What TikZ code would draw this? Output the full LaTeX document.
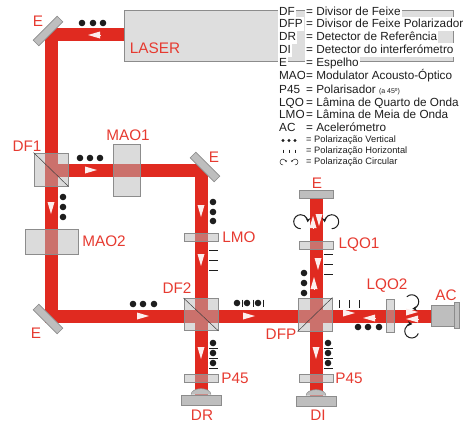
\documentclass[tikz,border=0pt]{standalone}
\usepackage{fontspec}
\setmainfont{Liberation Sans}
\usetikzlibrary{arrows.meta, backgrounds}
\usepackage{xcolor}
\definecolor{beamred}{HTML}{E02A20}
\definecolor{partred}{HTML}{E63A30}
\definecolor{platefill}{HTML}{B8B8B8}
\definecolor{solidfill}{HTML}{BEBEBE}
\definecolor{edgegray}{HTML}{8C8C8C}
\definecolor{legendink}{HTML}{1E1E1E}
\tikzset{
    beam/.style={
        draw=beamred, line width=13pt, miter limit=10
    },
    lasersource/.style={
        rectangle, inner sep=0pt, fill=black!13, draw=edgegray, line width=0.8pt
    },
    plate/.style={
        rectangle, inner sep=0pt, fill=platefill, fill opacity=0.5,
        draw=edgegray, line width=0.8pt
    },
    mirrorbox/.style={
        rectangle, inner sep=0pt, fill=solidfill, draw=edgegray, line width=0.6pt,
        minimum width=34pt, minimum height=8pt
    },
    solidbox/.style={
        rectangle, inner sep=0pt, fill=solidfill, draw=edgegray, line width=0.8pt
    },
    split/.style={
        draw=black!75, line width=0.5pt
    },
    partname/.style={
        text=partred, font=\fontsize{15.3}{17}\selectfont, inner sep=0pt
    },
    legendkey/.style={
        anchor=west, fill=white, inner sep=1pt, text=legendink, text height=9pt, text depth=2.5pt,
        font=\fontsize{11.75}{14}\selectfont
    },
    legendtiny/.style={
        anchor=west, inner sep=1pt, text=legendink, font=\fontsize{9.3}{11}\selectfont
    },
    poldot/.style={
        fill=legendink
    },
    polbar/.style={
        draw=legendink, line width=1pt
    },
    flow/.style={
        -{Triangle[length=12pt, width=7pt]}, draw=white!92!beamred, line width=0pt
    },
    spin/.style={
        draw=legendink, line width=1pt, -{Stealth[length=4.5pt, width=5pt]}
    },
    spintiny/.style={
        draw=legendink, line width=0.5pt, -{Stealth[length=2pt, width=2pt]}
    }
}
\begin{document}
\begin{tikzpicture}[x=1pt, y=-1pt]
    \useasboundingbox (0,0) rectangle (470,424);

    % ── Sources and optics ──
    \node[lasersource, minimum width=329pt, minimum height=51pt] (laser) at (288.5,35.5) {};
    \node[plate, minimum width=34pt, minimum height=33pt] (dfone) at (51,169.5) {};
    \node[plate, minimum width=27pt, minimum height=52pt] (maoone) at (126.5,170) {};
    \node[plate, minimum width=53pt, minimum height=25pt] (maotwo) at (51.5,241.5) {};
    \node[plate, minimum width=34pt, minimum height=8pt] (lmo) at (201,237) {};
    \node[plate, minimum width=34pt, minimum height=32pt] (dftwo) at (201,314.5) {};
    \node[plate, minimum width=34pt, minimum height=8pt] (pleft) at (201,378) {};
    \node[plate, minimum width=34pt, minimum height=8pt] (lqoone) at (316,245) {};
    \node[plate, minimum width=34pt, minimum height=33pt] (dfp) at (315,314.5) {};
    \node[plate, minimum width=8pt, minimum height=33pt] (lqotwo) at (390,315.5) {};
    \node[plate, minimum width=34pt, minimum height=8pt] (pright) at (316,378) {};

    \node[mirrorbox, rotate=45] (mirrortop) at (48,31) {};
    \node[mirrorbox, rotate=-45] (mirrorright) at (205,167) {};
    \node[mirrorbox, rotate=-45] (mirrorlow) at (48,319) {};
    \node[mirrorbox] (mirrorup) at (316,194.5) {};

    \node[solidbox, minimum width=40pt, minimum height=10pt] (dr) at (201,400) {};
    \node[solidbox, minimum width=40pt, minimum height=10pt] (di) at (316,401) {};
    \node[solidbox, minimum width=23pt, minimum height=21pt] (ac) at (442.5,315.5) {};
    \node[solidbox, minimum width=5pt, minimum height=26pt] (accap) at (456.5,315) {};

    \filldraw[fill=solidfill, draw=edgegray, line width=0.5pt] (dr.north) ++(-10,0) arc[start angle=180, end angle=360, x radius=10, y radius=6];
    \filldraw[fill=solidfill, draw=edgegray, line width=0.5pt] (di.north) ++(-10,0) arc[start angle=180, end angle=360, x radius=10, y radius=6];

    \draw[split] (dfone.north west) -- (dfone.south east);
    \draw[split] (dftwo.north west) -- (dftwo.south east);
    \draw[split] (dfp.south west) -- (dfp.north east);

    % ── Beams ──
    \coordinate (bendtop) at (51,34);
    \coordinate (bendmid) at (201,170);
    \coordinate (bendlow) at (51,316);
    \begin{scope}[on background layer]
        \draw[beam] (laser.west |- bendtop) -- (bendtop) -- (bendlow) -- (ac.west |- bendlow);
        \draw[beam] (bendtop |- bendmid) -- (bendmid) -- (dr.north);
        \draw[beam] (mirrorup.center) -- (di.north);
    \end{scope}

    % ── Direction marks ──
    \draw[flow] (100,35) -- (88,35);
    \draw[flow] (51,202) -- (51,214);
    \draw[flow] (85,170) -- (97,170);
    \draw[flow] (201,205) -- (201,217);
    \draw[flow] (201,254) -- (201,266);
    \draw[flow] (201,347) -- (201,359);
    \draw[flow] (137,316) -- (149,316);
    \draw[flow] (243,316) -- (255,316);
    \draw[flow] (314,288) -- (314,277);
    \draw[flow] (318,258) -- (318,270);
    \draw[flow] (313,227) -- (313,216);
    \draw[flow] (319,215) -- (319,226);
    \draw[flow] (316,347) -- (316,359);
    \draw[flow] (343,313) -- (355,313);
    \draw[flow] (375,318) -- (363,318);
    \draw[flow] (406,312) -- (418,312);
    \draw[flow] (418,319) -- (406,319);

    % ── Polarisation marks ──
    \fill[poldot] (82,23) circle (3.3) (93,23) circle (3.3) (103,23) circle (3.3);
    \fill[poldot] (80,158) circle (3.3) (90,158) circle (3.3) (100,158) circle (3.3);
    \fill[poldot] (63,197) circle (3.3) (63,207) circle (3.3) (63,217) circle (3.3);
    \fill[poldot] (213,202) circle (3.3) (213,212) circle (3.3) (213,221) circle (3.3);
    \fill[poldot] (133,304) circle (3.3) (143,304) circle (3.3) (154,304) circle (3.3);
    \fill[poldot] (213,343) circle (3.3) (213,353) circle (3.3) (213,363) circle (3.3);
    \fill[poldot] (237,303) circle (3.3) (247,303) circle (3.3) (258,303) circle (3.3);
    \fill[poldot] (304,273) circle (3.3) (304,283) circle (3.3) (304,293) circle (3.3);
    \fill[poldot] (358,327) circle (3.3) (368,327) circle (3.3) (379,327) circle (3.3);
    \fill[poldot] (328,343) circle (3.3) (328,353) circle (3.3) (328,363) circle (3.3);
    \draw[polbar] (209,250) -- (218,250) (209,260) -- (218,260) (209,270) -- (218,270);
    \draw[polbar] (209,348) -- (218,348) (209,358) -- (218,358) (209,368) -- (218,368);
    \draw[polbar] (242,299.5) -- (242,307) (253,299.5) -- (253,307) (263,299.5) -- (263,307);
    \draw[polbar] (339,300) -- (339,308) (349,300) -- (349,308) (359,300) -- (359,308);
    \draw[polbar] (324,254) -- (332.5,254) (324,264) -- (332.5,264) (324,274) -- (332.5,274);
    \draw[polbar] (324,348) -- (333,348) (324,358) -- (333,358) (324,368) -- (333,368);

    \draw[spin] (300.7,228.7) arc[start angle=90, end angle=365, radius=7];
    \draw[spin] (331.7,228.7) arc[start angle=90, end angle=-185, radius=7];
    \draw[spin] (406.8,296.8) arc[start angle=225, end angle=445, radius=7];
    \draw[spin] (418.3,333.4) arc[start angle=20, end angle=275, radius=7];

    % ── Part names ──
    \node[partname] (nametop) at (38,21) {E};
    \node[partname] (namelaser) at (155,48) {LASER};
    \node[partname] (namemaoone) at (128,135) {MAO1};
    \node[partname] (namedfone) at (27,146) {DF1};
    \node[partname] (nameright) at (214,157) {E};
    \node[partname] (namemaotwo) at (104,241) {MAO2};
    \node[partname] (namelow) at (36,333) {E};
    \node[partname] (namelmo) at (239,237) {LMO};
    \node[partname] (namedftwo) at (177,288) {DF2};
    \node[partname] (namepleft) at (235,378) {P45};
    \node[partname] (namedr) at (202,415) {DR};
    \node[partname] (nameup) at (317,183) {E};
    \node[partname] (namelqoone) at (359,245) {LQO1};
    \node[partname] (namedfp) at (281,334) {DFP};
    \node[partname] (namelqotwo) at (387,286) {LQO2};
    \node[partname] (nameac) at (446,295) {AC};
    \node[partname] (namepright) at (349,378) {P45};
    \node[partname] (namedi) at (318,415) {DI};

    % ── Legend ──
    \node[legendkey] (keydf) at (278,12) {DF};
    \node[legendkey] (textdf) at (305,12) {= Divisor de Feixe};
    \node[legendkey] (keydfp) at (278,24) {DFP};
    \node[legendkey] (textdfp) at (305,24) {= Divisor de Feixe Polarizador};
    \node[legendkey] (keydrr) at (278,37) {DR};
    \node[legendkey] (textdr) at (305,37) {= Detector de Referência};
    \node[legendkey] (keydi) at (278,50) {DI};
    \node[legendkey] (textdi) at (305,50) {= Detector do interferómetro};
    \node[legendkey] (keye) at (278,63) {E};
    \node[legendkey] (texte) at (305,63) {= Espelho};
    \node[legendkey] (keymao) at (278,76) {MAO};
    \node[legendkey] (textmao) at (305,76) {= Modulator Acousto-Óptico};
    \node[legendkey] (keyp) at (278,90) {P45};
    \node[legendkey] (textp) at (305,90) {= Polarisador {\fontsize{7}{8}\selectfont (a 45º)}};
    \node[legendkey] (keylqo) at (278,103) {LQO};
    \node[legendkey] (textlqo) at (305,103) {= Lâmina de Quarto de Onda};
    \node[legendkey] (keylmo) at (278,115) {LMO};
    \node[legendkey] (textlmo) at (305,115) {= Lâmina de Meia de Onda};
    \node[legendkey] (keyac) at (278,128) {AC};
    \node[legendkey] (textac) at (305,128) {= Acelerómetro};
    \node[legendtiny] (textvert) at (305,140) {= Polarização Vertical};
    \node[legendtiny] (texthori) at (305,151) {= Polarização Horizontal};
    \node[legendtiny] (textcirc) at (305,162) {= Polarização Circular};

    \fill[poldot] (283,140.5) circle (1.7) (289,140.5) circle (1.7) (295,140.5) circle (1.7);
    \draw[polbar, line width=0.6pt] (283,149.5) -- (283,153) (289,149.5) -- (289,153) (295,149.5) -- (295,153);
    \draw[spintiny] (283,165) arc[start angle=90, end angle=365, radius=3];
    \draw[spintiny] (295,165) arc[start angle=90, end angle=-185, radius=3];

\end{tikzpicture}
\end{document}
